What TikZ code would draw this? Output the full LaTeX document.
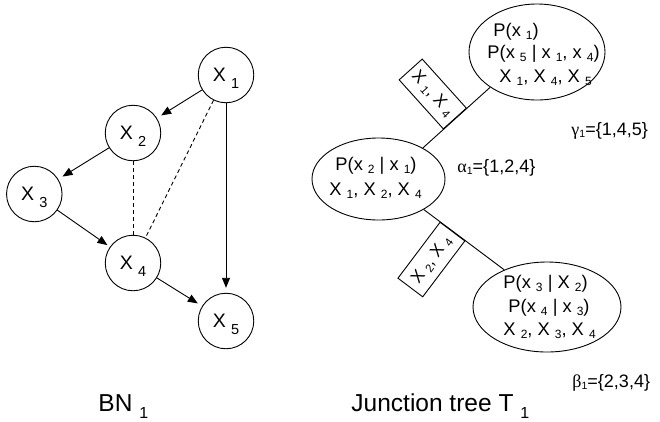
\documentclass[tikz,border=0pt]{standalone}
\usepackage{fontspec}
\setmainfont{Liberation Sans}
\newfontfamily\grk{Liberation Serif}
\usetikzlibrary{arrows.meta,shapes.geometric,calc}
\newcommand{\subC}[1]{\ \raisebox{-7pt}[0pt][0pt]{\fontsize{14.5}{14.5}\selectfont #1}}
\newcommand{\subE}[1]{\ \raisebox{-3pt}[0pt][0pt]{\fontsize{12}{12}\selectfont #1}}
\newcommand{\subB}[1]{\ \raisebox{-3pt}[0pt][0pt]{\fontsize{11.5}{11.5}\selectfont #1}}
\newcommand{\subL}[1]{\ \raisebox{-7.5pt}[0pt][0pt]{\fontsize{16}{16}\selectfont #1}}
\newcommand{\subG}[1]{\raisebox{-2pt}[0pt][0pt]{\fontsize{10.5}{10.5}\selectfont #1}}
\begin{document}
\begin{tikzpicture}[x=1pt,y=-1pt,line width=0.9pt,
  bn/.style={circle,draw,minimum size=55.5pt,inner sep=0pt,font=\fontsize{19.5}{21}\selectfont},
  clique/.style={ellipse,draw,inner sep=0pt},
  row/.style={anchor=base west,inner sep=0pt,font=\fontsize{18.3}{20}\selectfont},
  sepbox/.style={draw,rectangle,minimum height=31pt,inner sep=0pt,font=\fontsize{17}{18}\selectfont},
  arr/.style={-{Triangle[length=10pt,width=8pt]},shorten >=5pt},
  dsh/.style={dash pattern=on 4pt off 3pt},
  lbl/.style={anchor=base west,inner sep=0pt,font=\fontsize{24.5}{26}\selectfont},
  grl/.style={anchor=base west,inner sep=0pt,font=\fontsize{18}{19}\selectfont}]
\useasboundingbox (0,0) rectangle (660,421);

% Bayesian network
\node[bn] (x1) at (226,75) {X\subC{1}};
\node[bn] (x2) at (133,133) {X\subC{2}};
\node[bn] (x3) at (34.3,194) {X\subC{3}};
\node[bn] (x4) at (133,263) {X\subC{4}};
\node[bn] (x5) at (226,321) {X\subC{5}};

\draw[arr] (x1) -- (x2);
\draw[arr] (x2) -- (x3);
\draw[arr,shorten >=3pt] (x3) -- (x4);
\draw[arr] (x4) -- (x5);
\draw[arr] (x1) -- (x5);
\draw[dsh] (x2) -- (x4);
\draw[dsh] (x1) -- (x4);

% Junction tree
\node[clique,minimum width=136pt,minimum height=96pt] (c1) at (537,52) {};
\node[clique,minimum width=133pt,minimum height=82pt] (c2) at (378.5,179) {};
\node[clique,minimum width=148pt,minimum height=90pt] (c3) at (547,307) {};

\node[row] (c1a) at (493,36) {P(x\subE{1})};
\node[row] (c1b) at (487,58.3) {P(x\subE{5} | x\subE{1}, x\subE{4})};
\node[row] (c1c) at (499,82.3) {X\subE{1}, X\subE{4}, X\subE{5}};

\node[row] (c2a) at (335,170) {P(x\subE{2} | x\subE{1})};
\node[row] (c2b) at (329,195) {X\subE{1}, X\subE{2}, X\subE{4}};

\node[row] (c3a) at (503,288) {P(x\subE{3} | X\subE{2})};
\node[row] (c3b) at (508,312) {P(x\subE{4} | x\subE{3})};
\node[row] (c3c) at (503,335) {X\subE{2}, X\subE{3}, X\subE{4}};

\draw (c2.35) -- (c1.217) coordinate[pos=0.48] (m1);
\draw (c2.-34) -- (c3.139) coordinate[pos=0.36] (m2);
\node[sepbox,rotate=-48,anchor=east,minimum width=66pt] (s1) at (m1) {X\subB{1}, X\subB{4}};
\node[sepbox,rotate=53,anchor=east,minimum width=70pt] (s2) at (m2) {X\subB{2}, X\subB{4}};

\node[grl] (g) at (571,135) {{\grk γ}\subG{1}=\{1,4,5\}};
\node[grl] (a) at (457,172) {{\grk α}\subG{1}=\{1,2,4\}};
\node[grl] (b) at (572,387) {{\grk β}\subG{1}=\{2,3,4\}};

\node[lbl] (bn) at (98,411) {BN\subL{1}};
\node[lbl] (jt) at (351,411) {Junction tree T\subL{1}};
\end{tikzpicture}
\end{document}
